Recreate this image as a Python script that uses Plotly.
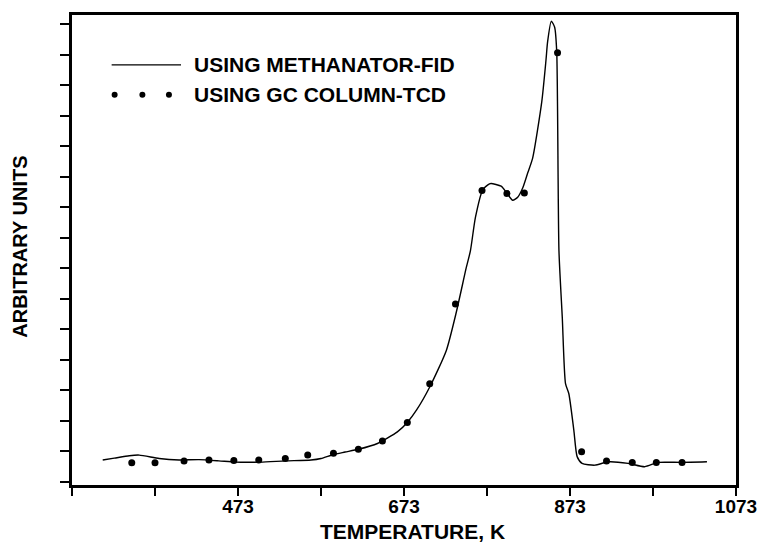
import plotly.graph_objects as go

# Methanator-FID continuous trace (temperature K, arbitrary units)
fid_temp = [310, 324, 342, 354, 378, 402, 426, 450, 470, 500, 530, 561, 573, 588,
            602, 618, 641, 665, 677, 688, 704, 724, 736, 748, 753, 759, 768, 776,
            778, 790, 797, 804, 810, 816, 822, 828, 839, 844, 846, 850.5, 854.5, 857,
            859.7, 863.7, 867.6, 871.6, 877.6, 881.6, 887.5, 903, 919, 943, 963,
            979, 1007, 1038]
fid_signal = [0.72, 0.78, 0.86, 0.88, 0.77, 0.72, 0.73, 0.69, 0.65, 0.65, 0.69, 0.72,
              0.77, 0.90, 0.98, 1.07, 1.26, 1.64, 1.95, 2.35, 3.11, 4.31, 5.56, 7.02,
              7.57, 8.66, 9.58, 9.77, 9.78, 9.69, 9.46, 9.23, 9.33, 9.63, 10.12, 10.61,
              12.46, 13.8, 14.42, 15.1, 14.9, 14.1, 7.57, 5.39, 3.22, 2.89, 1.70, 0.83,
              0.61, 0.55, 0.66, 0.61, 0.50, 0.64, 0.64, 0.66]

# GC column-TCD discrete samples
tcd_temp = [345, 373, 408, 438, 468, 498, 530, 557, 588, 618, 647, 677, 704, 735,
            767, 797, 818, 858, 887, 917, 948, 977, 1008]
tcd_signal = [0.63, 0.63, 0.69, 0.72, 0.70, 0.72, 0.77, 0.88, 0.94, 1.07, 1.34, 1.95,
              3.22, 5.83, 9.55, 9.45, 9.47, 14.06, 0.99, 0.69, 0.64, 0.64, 0.64]

x_ticks = [273, 373, 473, 573, 673, 773, 873, 973, 1073]
x_tick_labels = ["", "", "473", "", "673", "", "873", "", "1073"]
y_ticks = list(range(0, 16))

legend_labels = ["USING METHANATOR-FID", "USING GC COLUMN-TCD"]

FONT = "Liberation Sans"

fig = go.Figure()
fig.add_trace(go.Scatter(x=fid_temp, y=fid_signal, mode="lines",
                         line=dict(color="black", width=1.4, shape="spline", smoothing=0.6),
                         showlegend=False))
fig.add_trace(go.Scatter(x=tcd_temp, y=tcd_signal, mode="markers",
                         marker=dict(color="black", size=7),
                         showlegend=False))

# Manual legend (layout decoration)
fig.add_shape(type="line", xref="paper", yref="paper", x0=0.0597, x1=0.1642,
              y0=0.894, y1=0.894, line=dict(color="black", width=1.3))
for px in [0.0642, 0.106, 0.146]:
    fig.add_shape(type="circle", xref="paper", yref="paper", xsizemode="pixel",
                  ysizemode="pixel", xanchor=px, yanchor=0.8305, x0=-3, x1=3, y0=-3, y1=3,
                  fillcolor="black", line=dict(color="black", width=0))
for lbl, yy in zip(legend_labels, [0.894, 0.8305]):
    fig.add_annotation(text=lbl, xref="paper", yref="paper", x=0.1806, y=yy,
                       xanchor="left", yanchor="middle", showarrow=False,
                       font=dict(family=FONT, size=21, color="black", weight="bold"))

fig.add_annotation(text="ARBITRARY UNITS", xref="paper", yref="paper", x=-0.0776, y=0.508,
                   xanchor="center", yanchor="middle", textangle=-90, showarrow=False,
                   font=dict(family=FONT, size=20, color="black", weight="bold"))
fig.add_annotation(text="TEMPERATURE, K", xref="paper", yref="paper", x=0.513, y=-0.0985,
                   xanchor="center", yanchor="middle", showarrow=False,
                   font=dict(family=FONT, size=21, color="black", weight="bold"))

fig.update_xaxes(range=[273, 1073], tickvals=x_ticks, ticktext=x_tick_labels,
                 ticks="outside", ticklen=8, tickwidth=2, tickcolor="black",
                 ticklabelstandoff=-6,
                 showline=True, linewidth=3, linecolor="black", mirror=True,
                 showgrid=False, zeroline=False,
                 tickfont=dict(family=FONT, size=19, color="black", weight="bold"))
fig.update_yaxes(range=[-0.1, 15.3], tickvals=y_ticks, showticklabels=False,
                 ticks="outside", ticklen=9, tickwidth=2, tickcolor="black",
                 showline=True, linewidth=3, linecolor="black", mirror=True,
                 showgrid=False, zeroline=False)

fig.update_layout(width=769, height=546, margin=dict(l=72, r=27, t=13, b=61),
                  paper_bgcolor="white", plot_bgcolor="white")

fig.write_html("out.html")
